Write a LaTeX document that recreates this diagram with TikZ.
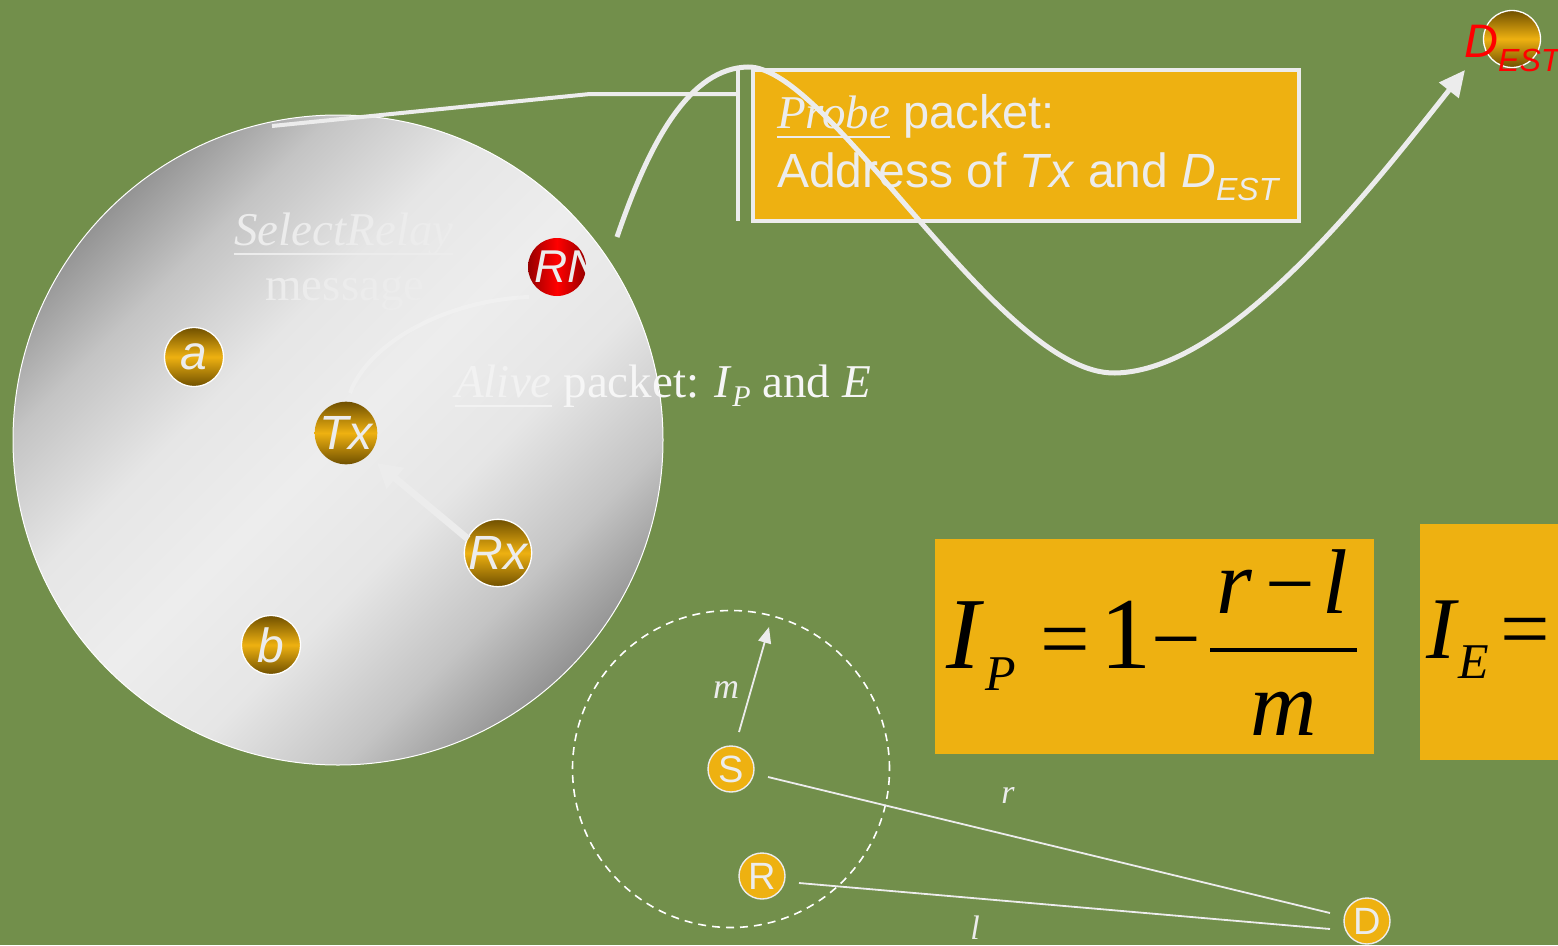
\documentclass[tikz,border=0pt]{standalone}
\usepackage{fontspec}
\setmainfont{Liberation Serif}
\newfontfamily\arial{Liberation Sans}
\usetikzlibrary{arrows.meta,calc}
\definecolor{bg}{RGB}{114,143,75}
\definecolor{gold}{RGB}{238,177,17}
\definecolor{goldd}{RGB}{112,80,0}
\definecolor{wl}{RGB}{236,236,236}
\definecolor{wl2}{RGB}{246,246,246}
\definecolor{wl3}{RGB}{242,242,242}
\definecolor{zdk}{RGB}{148,148,148}
\definecolor{zmd}{RGB}{196,196,196}
\definecolor{zlt}{RGB}{230,230,230}
\definecolor{zwh}{RGB}{237,237,237}
\definecolor{redd}{RGB}{150,0,0}
\pgfdeclareverticalshading{zoneshade}{100bp}{color(0bp)=(zdk); color(25bp)=(zdk); color(32bp)=(zmd); color(41bp)=(zlt); color(50bp)=(zwh); color(59bp)=(zlt); color(68bp)=(zmd); color(75bp)=(zdk); color(100bp)=(zdk)}
\newcommand\myul[1]{\setbox0=\hbox{#1}\rlap{\rule[-0.22em]{\wd0}{0.055em}}\box0\relax}
\newcommand\fs[1]{\fontsize{#1}{#1}\selectfont}
\begin{document}
\begin{tikzpicture}[x=1pt,y=-1pt,
  ball/.style={circle, minimum size=59pt, inner sep=0pt, top color=goldd, bottom color=goldd, middle color=gold,
    text=wl, font=\arial\itshape\fs{48}},
  rim/.style={draw=white, line width=1.3pt},
  dot/.style={circle, minimum size=46pt, inner sep=0pt, fill=gold, draw=wl, line width=1.4pt, text=wl, font=\arial\fs{38}},
  wline/.style={draw=wl, line width=4pt},
  mth/.style={inner sep=0pt, anchor=base west, text=black},
  txt/.style={inner sep=0pt, text=wl}]
\useasboundingbox (0,0) rectangle (1558,945);
\clip (0,0) rectangle (1558,945);
\fill[bg] (0,0) rectangle (1558,945);

% big zone
\node[circle, minimum size=650pt, inner sep=0pt, draw=white, line width=1pt,
  shading=zoneshade, shading angle=45] (zone) at (338,440) {};

\node[txt, anchor=base west, font=\fs{47}] (sel) at (234,245) {\myul{\itshape SelectRelay}};
\node[txt, anchor=base, font=\fs{47}] (msg) at (345,300) {message};

% nodes in zone
\node[ball] (Tx) at (346,433) {Tx};
\node[ball, rim] (a) at (194,357) {a};
\node[ball, rim] (Rx) at (498,553) {Rx};
\node[ball, rim] (b) at (271,645) {b};
\node[circle, minimum size=58pt, inner sep=0pt, left color=redd, right color=redd, middle color=red,
  path picture={\node[text=wl, font=\arial\itshape\fs{46}, inner sep=0pt] (RNl) at ([xshift=11pt]path picture bounding box.center) {RN};}] (RN) at (557,267) {};

% faint arc RN -> Tx
\draw[white, opacity=.22, line width=4pt] ($(RN)+(-28,30)$) .. controls (450,300) and (370,340) .. ($(Tx)+(4,-40)$);

% Rx -> Tx
\draw[wl, line width=7pt, -{Triangle[length=24pt,width=26pt]}] ($(Rx)+(-30,-14)$) -- ($(Tx)+(31,30)$);

% Alive packet
\node[txt, anchor=base west, font=\fs{47}, text=wl2] (alive) at (455,397)
  {\textcolor{wl3}{\myul{\itshape Alive}} packet: \textit{I}\raisebox{-9pt}{\fs{30}\itshape P} and \textit{E}};

% callout
\coordinate (c1) at (272,126);
\coordinate (c2) at (590,94);
\coordinate (c3) at (738,94);
\coordinate (v1) at (738,68);
\coordinate (v2) at (738,221);
\draw[wline] (c1) -- (c2) -- (c3);
\draw[wline] (v1) -- (v2);

% probe box
\path[fill=gold, draw=wl, line width=4pt] (753,70) rectangle (1299,221);
\node[txt, anchor=base west, font=\arial\fs{47}] (probe) at (777,128) {\myul{\rmfamily\itshape Probe} packet:};
\node[txt, anchor=base west, font=\arial\fs{48}] (addr) at (777,187)
  {Address of \textit{Tx} and \textit{D}\raisebox{-13pt}{\fs{32}\itshape EST}};

% big curve
\coordinate (cs) at (617,237);
\coordinate (ce) at (1465,70);
\draw[wl, line width=5pt, -{Triangle[length=26pt,width=24pt]}]
  (cs) .. controls (650,140) and (690,68) .. (748,67)
       .. controls (830,66) and (1000,375) .. (1115,373)
       .. controls (1230,371) and (1370,190) .. (ce);

% destination
\node[ball, rim, minimum size=57pt] (dest) at (1512,39) {};
\node[inner sep=0pt, anchor=base west, text=red, font=\arial\itshape\fs{47}] (destl) at (1464,57)
  {D\raisebox{-14pt}{\fs{32}EST}};

% formula boxes
\fill[gold] (935,539) rectangle (1374,754);
\fill[gold] (1420,524) rectangle (1570,760);
\node[mth, font=\itshape\fs{102}] (f1) at (946,668) {I};
\node[mth, font=\itshape\fs{50}] (f2) at (985,690) {P};
\node[mth, font=\fs{88}] (f3) at (1040,668) {=};
\node[mth, font=\fs{102}] (f4) at (1100,668) {1};
\node[mth, font=\fs{88}] (f5) at (1151,668) {−};
\coordinate (fb1) at (1210,650);
\coordinate (fb2) at (1357,650);
\draw[black, line width=4pt] (fb1) -- (fb2);
\node[mth, font=\itshape\fs{92}] (f6) at (1216,613) {r};
\node[mth, font=\fs{88}] (f7) at (1265,613) {−};
\node[mth, font=\itshape\fs{92}] (f8) at (1322,613) {l};
\node[mth, font=\itshape\fs{92}] (f9) at (1250,735) {m};
\node[mth, font=\itshape\fs{88}] (g1) at (1426,658) {I};
\node[mth, font=\itshape\fs{50}] (g2) at (1458,678) {E};
\node[mth, font=\fs{88}] (g3) at (1500,658) {=};

% small diagram
\node[dot] (S) at (731,769) {S};
\node[dot] (R) at (762,876) {R};
\node[dot] (D) at (1367,921) {D};
\draw[white, line width=1.6pt, dash pattern=on 8pt off 6pt] (S.center) circle[radius=158.5pt];
\coordinate (mtip) at (769,627);
\draw[wl, line width=1.8pt, -{Triangle[length=16pt,width=13pt]}] ($(S)+(8,-37)$) -- (mtip);
\node[txt, font=\itshape\fs{36}] (mlbl) at (726,690) {m};
\draw[wl, line width=1.8pt] ($(S)+(37,8)$) -- ($(D)+(-37,-8)$);
\draw[wl, line width=1.8pt] ($(R)+(37,7)$) -- ($(D)+(-37,8)$);
\node[txt, font=\itshape\fs{34}] (rlbl) at (1008,795) {r};
\node[txt, font=\itshape\fs{34}] (llbl) at (975,928) {l};
\end{tikzpicture}
\end{document}
